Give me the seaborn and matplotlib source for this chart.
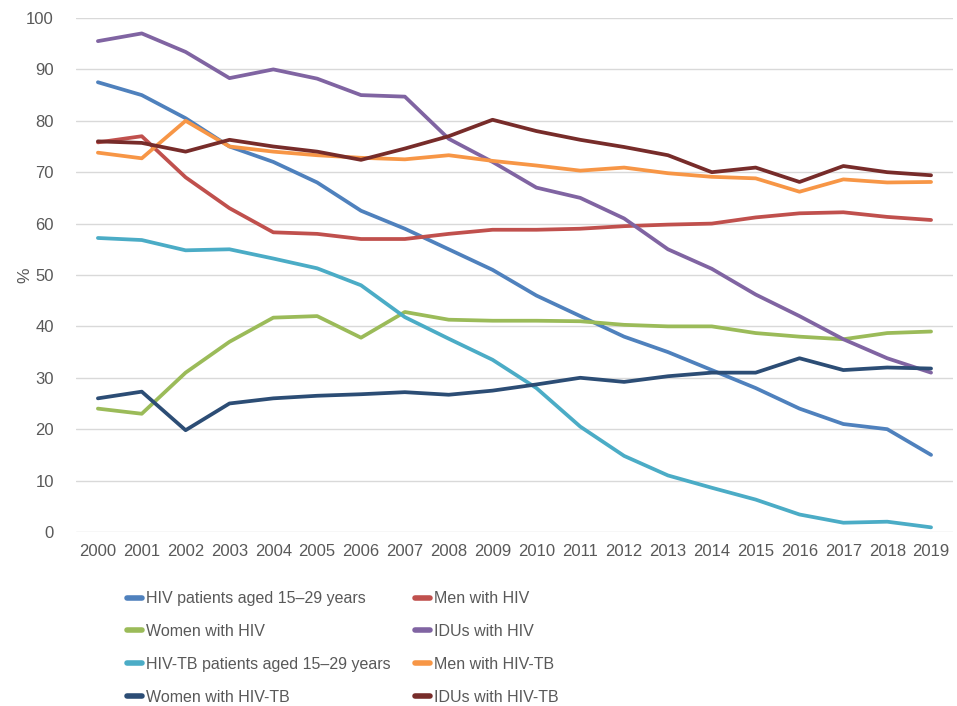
import pandas as pd
import seaborn as sns
import matplotlib.pyplot as plt
from matplotlib.lines import Line2D

years = list(range(2000, 2020))

hiv_young = [87.5, 85, 80.5, 75, 72, 68, 62.5, 59, 55, 51, 46, 42, 38, 35, 31.5, 28, 24, 21, 20, 15]
men_hiv = [75.8, 77, 69, 63, 58.3, 58, 57, 57, 58, 58.8, 58.8, 59, 59.5, 59.8, 60, 61.2, 62, 62.2, 61.3, 60.7]
women_hiv = [24, 23, 31, 37, 41.7, 42, 37.8, 42.8, 41.3, 41.1, 41.1, 41, 40.3, 40, 40, 38.7, 38, 37.5, 38.7, 39]
idu_hiv = [95.5, 97, 93.4, 88.3, 90, 88.2, 85, 84.7, 76.5, 72, 67, 65, 61, 55, 51.2, 46.2, 42, 37.5, 33.8, 31]
hivtb_young = [57.2, 56.8, 54.8, 55, 53.2, 51.3, 48, 41.8, 37.6, 33.5, 28, 20.5, 14.8, 11, 8.6, 6.3, 3.4, 1.8, 2, 0.9]
men_hivtb = [73.8, 72.7, 80, 75, 74, 73.3, 72.8, 72.5, 73.3, 72.2, 71.3, 70.3, 70.9, 69.8, 69.1, 68.8, 66.2, 68.6, 68, 68.1]
women_hivtb = [26, 27.3, 19.8, 25, 26, 26.5, 26.8, 27.2, 26.7, 27.5, 28.7, 30, 29.2, 30.3, 31, 31, 33.8, 31.5, 32, 31.8]
idu_hivtb = [76, 75.7, 74, 76.3, 75, 74, 72.4, 74.6, 77, 80.2, 78, 76.3, 74.9, 73.3, 70, 70.9, 68.1, 71.2, 70, 69.4]

series = {
    'HIV patients aged 15–29 years': hiv_young,
    'Men with HIV': men_hiv,
    'Women with HIV': women_hiv,
    'IDUs with HIV': idu_hiv,
    'HIV-TB patients aged 15–29 years': hivtb_young,
    'Men with HIV-TB': men_hivtb,
    'Women with HIV-TB': women_hivtb,
    'IDUs with HIV-TB': idu_hivtb,
}
colors = {
    'HIV patients aged 15–29 years': '#4F81BD',
    'Men with HIV': '#C0504D',
    'Women with HIV': '#9BBB59',
    'IDUs with HIV': '#8064A2',
    'HIV-TB patients aged 15–29 years': '#4BACC6',
    'Men with HIV-TB': '#F79646',
    'Women with HIV-TB': '#2C4D75',
    'IDUs with HIV-TB': '#772C2A',
}

rows = []
for name, vals in series.items():
    for y, v in zip(years, vals):
        rows.append({'year': y, 'value': v, 'group': name})
df = pd.DataFrame(rows)

sns.set_style('white')
plt.rcParams['font.family'] = ['Liberation Sans', 'DejaVu Sans']

fig, ax = plt.subplots(figsize=(9.57, 7.06), dpi=100)
fig.subplots_adjust(left=0.0794, right=0.9958, top=0.9745, bottom=0.2465)

sns.lineplot(data=df, x='year', y='value', hue='group', palette=colors,
             hue_order=list(series.keys()), linewidth=2.7, ax=ax, legend=False)

ax.set_xlim(1999.5, 2019.5)
ax.set_ylim(0, 100)
ax.set_yticks(range(0, 101, 10))
ax.set_xticks(years)
ax.grid(axis='y', color='#D9D9D9', linewidth=1)
ax.set_axisbelow(True)
for s in ax.spines.values():
    s.set_visible(False)
ax.tick_params(axis='both', length=0, labelsize=12, labelcolor='#595959')
ax.tick_params(axis='x', pad=9)
ax.tick_params(axis='y', pad=16)
ax.set_xlabel('')
ax.set_ylabel('%', fontsize=12.5, color='#595959')
ax.yaxis.set_label_coords(-0.05, 0.5)

# legend: two columns, filled column by column
left_col = ['HIV patients aged 15–29 years', 'Women with HIV',
            'HIV-TB patients aged 15–29 years', 'Women with HIV-TB']
right_col = ['Men with HIV', 'IDUs with HIV', 'Men with HIV-TB', 'IDUs with HIV-TB']
order = left_col + right_col
handles = [Line2D([0], [0], color=colors[n], linewidth=4, solid_capstyle='round') for n in order]
leg = fig.legend(handles, order, ncol=2, loc='upper left', bbox_to_anchor=(0.118, 0.183),
                 frameon=False, handlelength=0.95, handletextpad=0.25,
                 columnspacing=1.5, labelspacing=1.12,
                 prop={'family': 'Liberation Sans', 'size': 11.5})
for t in leg.get_texts():
    t.set_color('#595959')

fig.savefig('out.png', dpi=100)
